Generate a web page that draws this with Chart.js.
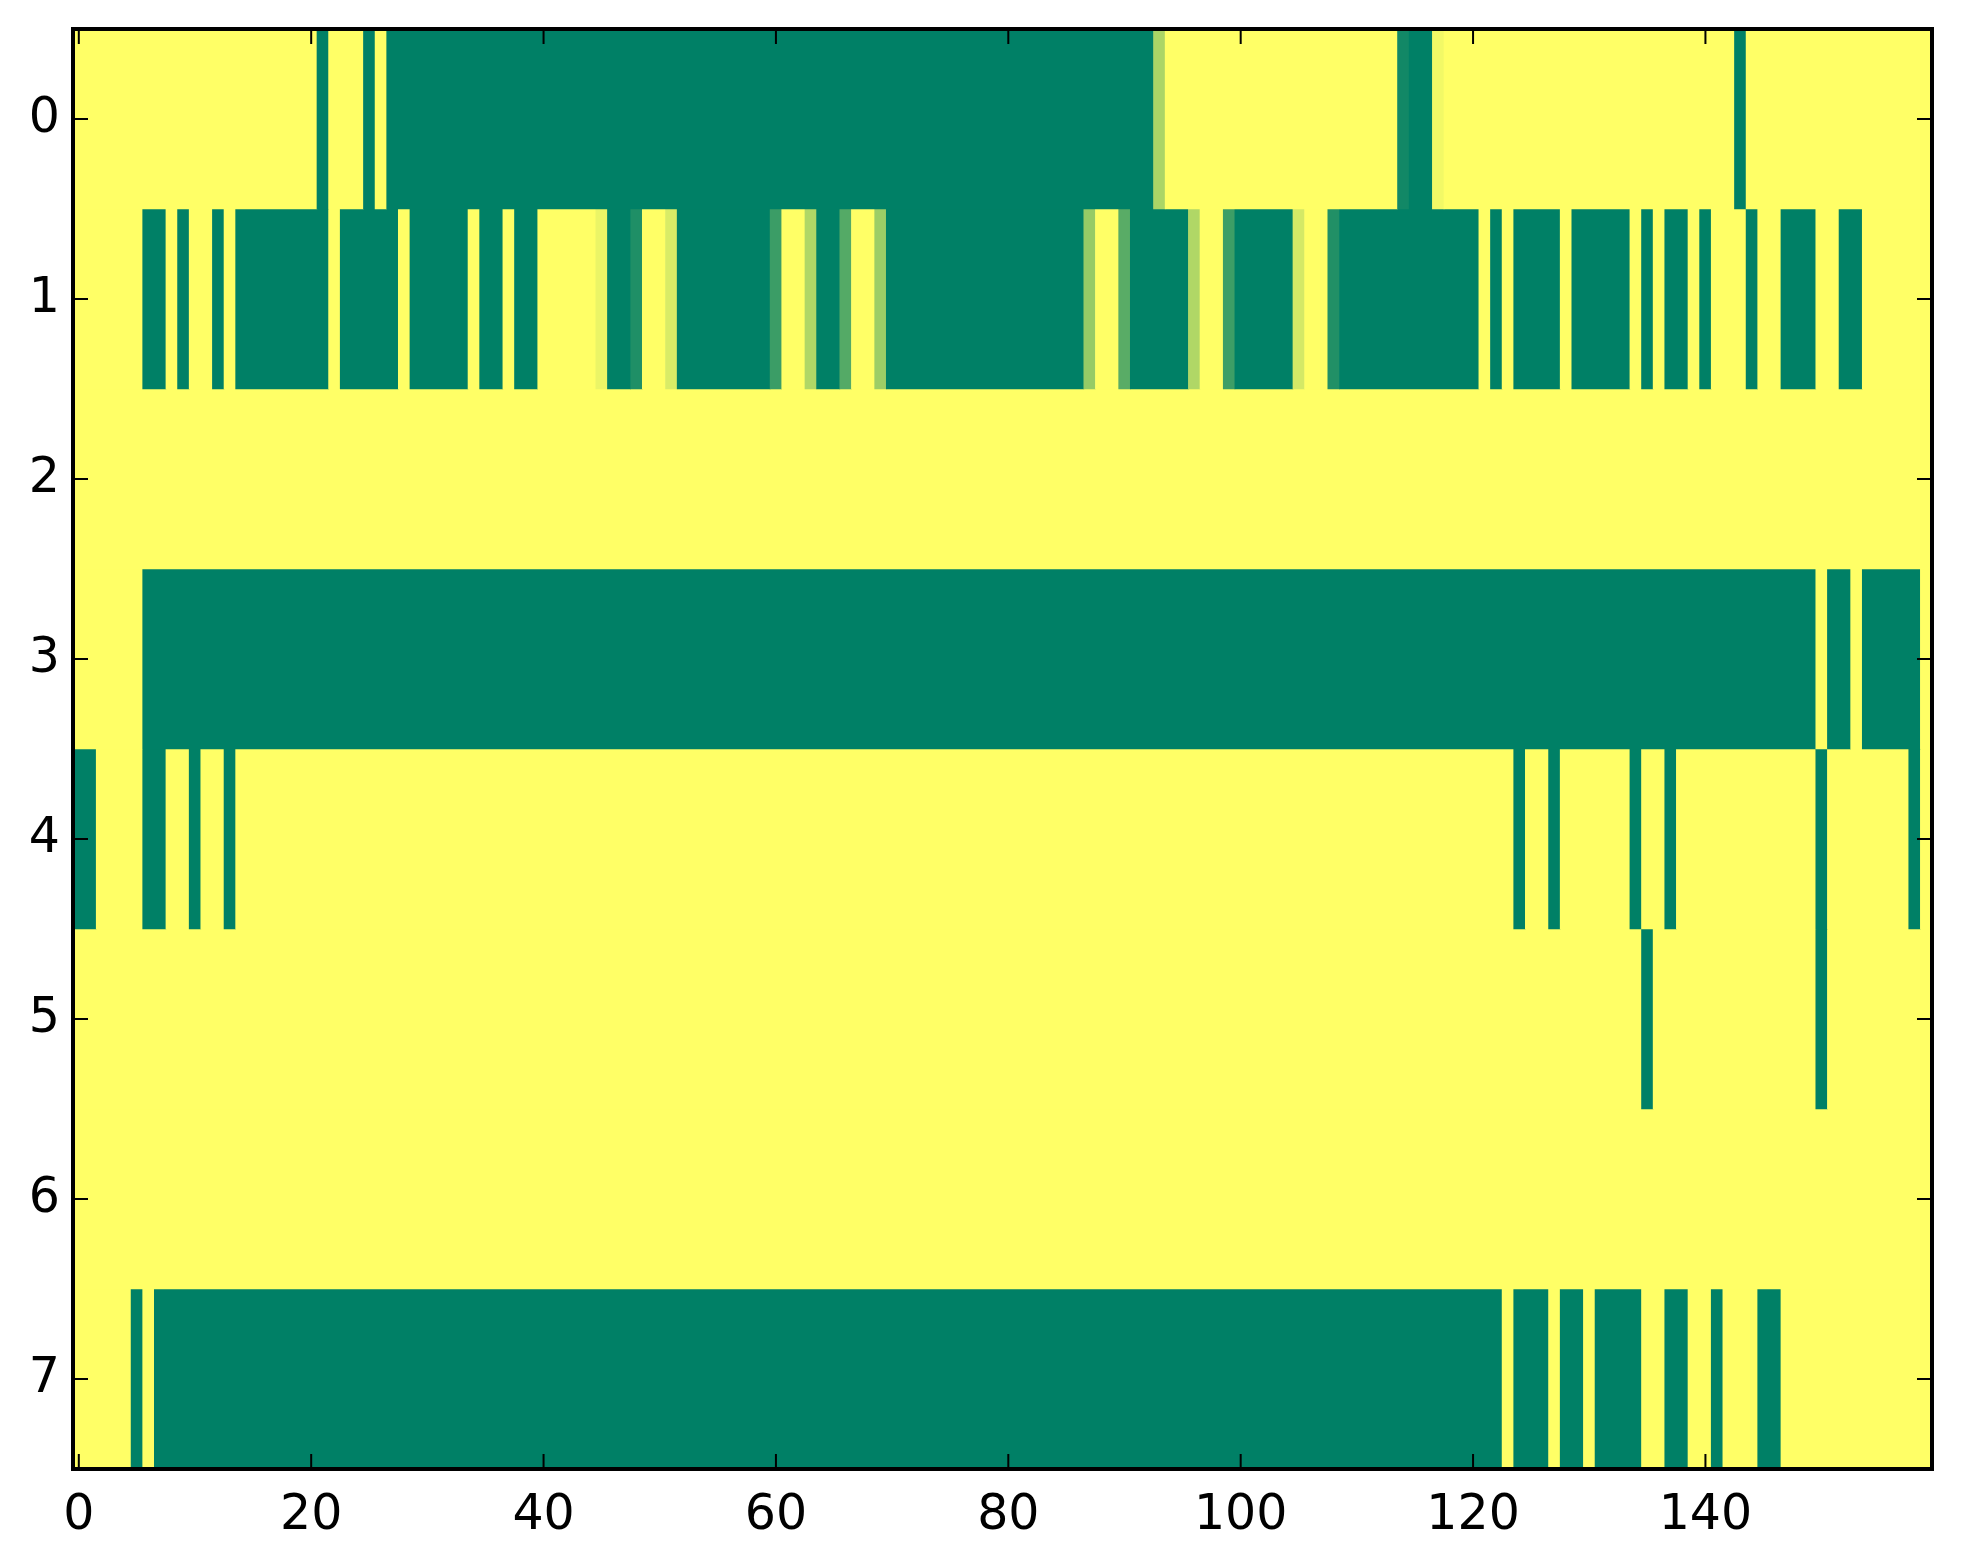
<!DOCTYPE html>
<html>
<head>
<meta charset="utf-8">
<script src="https://cdn.jsdelivr.net/npm/chart.js@4.4.1/dist/chart.umd.min.js"></script>
<style>
  html, body { margin: 0; padding: 0; background: #fff; }
  canvas { display: block; }
</style>
</head>
<body>
<canvas id="heat" width="1963" height="1564"></canvas>
<script>
// image rows, read left to right as runs of [value, number of cells]
// 1 = yellow, 0 = green (summer colormap)
var rowLabels = ['0', '1', '2', '3', '4', '5', '6', '7'];
var xTicks = [0, 20, 40, 60, 80, 100, 120, 140];

var row0 = [[1,21],[0,1],[1,3],[0,1],[1,1],[0,66],[0.67,1],[1,20],[0.07,1],[0,2],[0.95,1],[1,25],[0,1],[1,16]];
var row1 = [[1,6],[0,2],[1,1],[0,1],[1,2],[0,1],[1,1],[0,8],[1,1],[0,5],[1,1],[0,5],[1,1],[0,2],[1,1],[0,2],
            [1,5],[0.92,1],[0,2],[0.12,1],[1,2],[0.85,1],[0,8],[0.23,1],[1,2],[0.69,1],[0,2],[0.33,1],[1,2],[0.61,1],
            [0,17],[0.59,1],[1,2],[0.35,1],[0,5],[0.69,1],[1,2],[0.24,1],[0,5],[0.83,1],[1,2],[0.13,1],[0,12],
            [1,1],[0,1],[1,1],[0,4],[1,1],[0,5],[1,1],[0,1],[1,1],[0,2],[1,1],[0,1],[1,3],[0,1],[1,2],[0,3],[1,2],[0,2],[1,6]];
var row2 = [[1,160]];
var row3 = [[1,6],[0,144],[1,1],[0,2],[1,1],[0,5],[1,1]];
var row4 = [[0,2],[1,4],[0,2],[1,2],[0,1],[1,2],[0,1],[1,110],[0,1],[1,2],[0,1],[1,6],[0,1],[1,2],[0,1],[1,12],[0,1],[1,7],[0,1],[1,1]];
var row5 = [[1,135],[0,1],[1,14],[0,1],[1,9]];
var row6 = [[1,160]];
var row7 = [[1,5],[0,1],[1,1],[0,116],[1,1],[0,3],[1,1],[0,2],[1,1],[0,4],[1,2],[0,2],[1,2],[0,1],[1,3],[0,2],[1,13]];

var rows = [row0, row1, row2, row3, row4, row5, row6, row7];

// matplotlib "summer": 0 -> #008066, 1 -> #ffff66
function summer(v) {
  var r = Math.round(255 * v);
  var g = Math.round(127.5 + 127.5 * v);
  return 'rgb(' + r + ',' + g + ',102)';
}

var datasets = rows.map(function (runs, i) {
  var start = -0.5;
  var cells = [];
  runs.forEach(function (run) {
    cells.push({ x: [start, start + run[1]], y: rowLabels[i], v: run[0] });
    start += run[1];
  });
  return {
    data: cells,
    backgroundColor: function (ctx) { return summer(ctx.raw.v); },
    borderWidth: 0,
    borderSkipped: false,
    grouped: false,
    barPercentage: 1,
    categoryPercentage: 1
  };
});

// black box with inward ticks on all four sides
var frame = {
  id: 'frame',
  afterDatasetsDraw: function (chart) {
    var ctx = chart.ctx, a = chart.chartArea;
    var xs = chart.scales.x, ys = chart.scales.y;
    var len = 15;
    ctx.save();
    ctx.strokeStyle = '#000';
    ctx.lineWidth = 2;
    ctx.beginPath();
    xs.ticks.forEach(function (t) {
      var px = xs.getPixelForValue(t.value);
      ctx.moveTo(px, a.bottom); ctx.lineTo(px, a.bottom - len);
      ctx.moveTo(px, a.top); ctx.lineTo(px, a.top + len);
    });
    ys.ticks.forEach(function (t, i) {
      var py = ys.getPixelForTick(i);
      ctx.moveTo(a.left, py); ctx.lineTo(a.left + len, py);
      ctx.moveTo(a.right, py); ctx.lineTo(a.right - len, py);
    });
    ctx.stroke();
    ctx.lineWidth = 4;
    ctx.strokeRect(a.left, a.top, a.right - a.left, a.bottom - a.top);
    ctx.restore();
  }
};

var tickFont = { family: 'DejaVu Sans', size: 49 };

new Chart(document.getElementById('heat').getContext('2d'), {
  type: 'bar',
  data: { labels: rowLabels, datasets: datasets },
  options: {
    responsive: false,
    devicePixelRatio: 1,
    animation: false,
    indexAxis: 'y',
    layout: { padding: { top: 29, right: 31, left: 0, bottom: 0 } },
    plugins: { legend: { display: false }, tooltip: { enabled: false } },
    scales: {
      x: {
        type: 'linear',
        min: -0.5,
        max: 159.5,
        grid: { display: false, drawTicks: false },
        border: { display: false },
        afterBuildTicks: function (s) { s.ticks = xTicks.map(function (v) { return { value: v }; }); },
        afterFit: function (s) { s.height = 95; s.paddingLeft = 0; s.paddingRight = 0; },
        ticks: { padding: 18, font: tickFont, color: '#000', maxRotation: 0, autoSkip: false }
      },
      y: {
        type: 'category',
        offset: true,
        grid: { display: false, drawTicks: false },
        border: { display: false },
        afterFit: function (s) { s.width = 73; s.paddingTop = 0; s.paddingBottom = 0; },
        ticks: { padding: 13, font: tickFont, color: '#000' }
      }
    }
  },
  plugins: [frame]
});
</script>
</body>
</html>
